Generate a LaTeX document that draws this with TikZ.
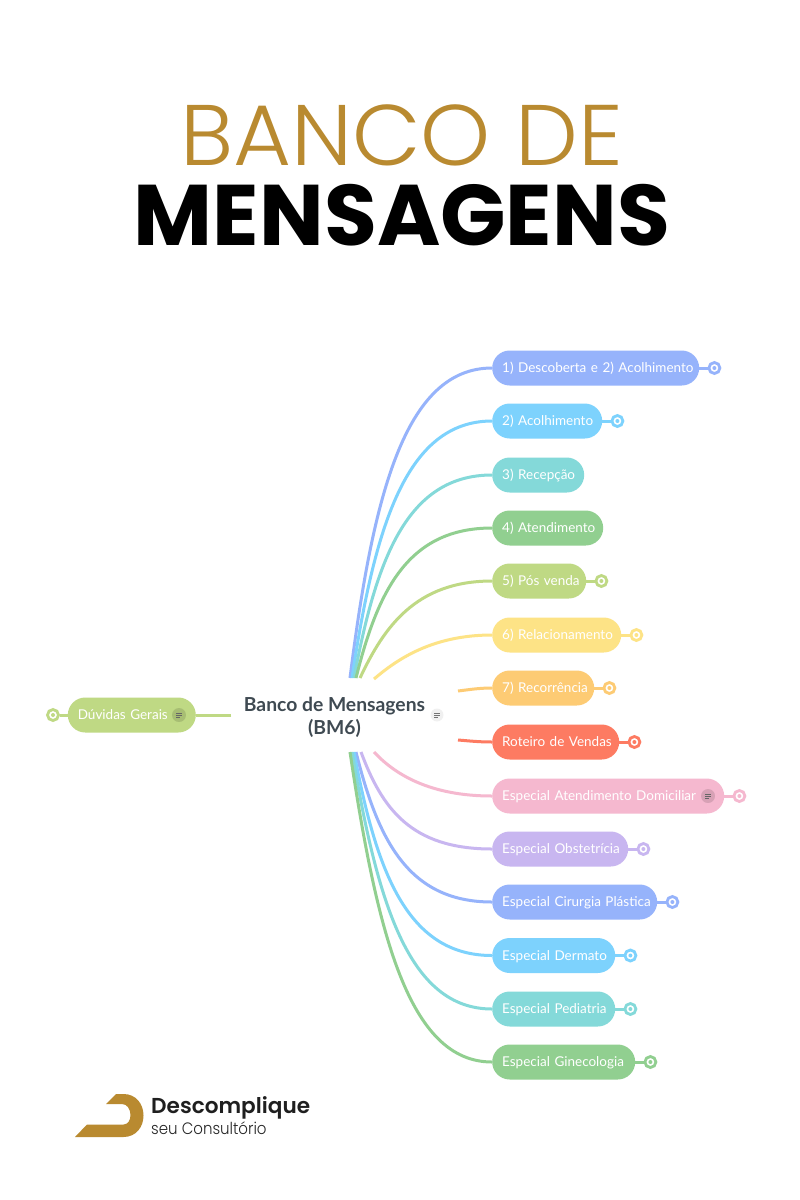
\documentclass[tikz,border=0pt]{standalone}
\usepackage{fontspec}
\usetikzlibrary{calc}
\setmainfont{Lato}
\newfontfamily\poplight{Poppins Light}
\newfontfamily\popbold{Poppins}[UprightFont=* Bold]
\newfontfamily\popsemi{Poppins}[UprightFont=* SemiBold]
\definecolor{cblue}{HTML}{96B3FB}
\definecolor{csky}{HTML}{7DD2FD}
\definecolor{cteal}{HTML}{84D9D9}
\definecolor{cgreen}{HTML}{91CF90}
\definecolor{clime}{HTML}{BFD984}
\definecolor{cyel}{HTML}{FDE386}
\definecolor{corange}{HTML}{FDCB74}
\definecolor{cred}{HTML}{FD7B62}
\definecolor{cpink}{HTML}{F5B8CF}
\definecolor{cpurp}{HTML}{C8B6F0}
\definecolor{cgold}{HTML}{B98A30}
\definecolor{cdark}{HTML}{3F4A52}
\tikzset{
  topicbox/.style={rounded corners=17.5pt,minimum height=35pt,inner xsep=10pt,inner ysep=0pt,
    align=left,text=white,anchor=west,font=\fontsize{13.5}{15}\selectfont},
  ringmark/.style={circle,draw=#1,line width=2.8pt,fill=white,minimum size=11pt,inner sep=0pt,
    path picture={\fill[#1] (path picture bounding box.center) circle (2pt);}},
  stem/.style={line width=3pt},
  branch/.style={line width=3pt},
  noteicon/.style={circle,fill=black,fill opacity=#1,minimum size=14pt,inner sep=0pt},
}
% id, y, width, colour, text
\newcommand{\topicnode}[5]{%
  \node[topicbox,fill=#4,text width={#3pt-20pt}] (n#1) at (492,#2) {\strut\raisebox{-1.5pt}{\makebox[\linewidth][l]{#5}}};}
\newcommand{\topicring}[2]{%
  \node[ringmark=#2] (r#1) at ([xshift=15pt]n#1.east) {};
  \draw[stem,#2] (n#1.east) -- (r#1.west);}
% id, colour, start x, start y, fx1, fy1, fx2
\newcommand{\topiclink}[7]{%
  \coordinate (s#1) at (#3,#4);
  \draw[branch,#2] let \p1=(s#1),\p2=(n#1.west),\n1={\x2-\x1},\n2={\y2-\y1} in
    (s#1) .. controls (\x1+#5*\n1,\y1+#6*\n2) and (\x1+#7*\n1,\y2) .. (n#1.west);}
\newcommand{\noteglyph}[1]{%
  \fill[#1] ([xshift=-3pt,yshift=2.5pt]nt.center) rectangle ([xshift=3pt,yshift=0.8pt]nt.center);
  \fill[#1] ([xshift=-3pt,yshift=0.2pt]nt.center) rectangle ([xshift=3pt,yshift=-1pt]nt.center);
  \fill[#1] ([xshift=-3pt,yshift=-1.6pt]nt.center) rectangle ([xshift=1pt,yshift=-2.8pt]nt.center);}
\begin{document}
\begin{tikzpicture}[x=1pt,y=-1pt]
\useasboundingbox[fill=white] (0,0) rectangle (800,1200);
% title
\node[text=cgold,font=\poplight\fontsize{86}{86}\selectfont,inner sep=0pt] (title1) at (401.5,135) {\scalebox{1.035}[1]{BANCO DE}};
\node[text=black,font=\popbold\fontsize{86}{86}\selectfont,inner sep=0pt] (title2) at (402,215) {MENSAGENS};
% root
\node[text=cdark,align=center,font=\bfseries\fontsize{19.3}{23}\selectfont,inner sep=0pt] (root) at (334.5,717) {Banco de Mensagens\\(BM6)};
\node[noteicon=0.06,minimum size=13pt] (nt) at (437,715) {};
\noteglyph{black!55}
% topics
\topicnode{1}{368}{207}{cblue}{1) Descoberta e 2) Acolhimento}
\topicnode{2}{421}{110}{csky}{2) Acolhimento}
\topicnode{3}{475}{92}{cteal}{3) Recepção}
\topicnode{4}{528}{111}{cgreen}{4) Atendimento}
\topicnode{5}{581}{94}{clime}{5) Pós venda}
\topicnode{6}{635}{129}{cyel}{6) Relacionamento}
\topicnode{7}{688}{102}{corange}{7) Recorrência}
\topicnode{8}{742}{127}{cred}{Roteiro de Vendas}
\topicnode{9}{796}{232}{cpink}{Especial Atendimento Domiciliar}
\topicnode{10}{849}{136}{cpurp}{Especial Obstetrícia}
\topicnode{11}{902}{165}{cblue}{Especial Cirurgia Plástica}
\topicnode{12}{955.5}{123}{csky}{Especial Dermato}
\topicnode{13}{1009}{123}{cteal}{Especial Pediatria}
\topicnode{14}{1062}{143}{cgreen}{Especial Ginecologia}
\topicring{1}{cblue}
\topicring{2}{csky}
\topicring{5}{clime}
\topicring{6}{cyel}
\topicring{7}{corange}
\topicring{8}{cred}
\topicring{9}{cpink}
\topicring{10}{cpurp}
\topicring{11}{cblue}
\topicring{12}{csky}
\topicring{13}{cteal}
\topicring{14}{cgreen}
\topiclink{1}{cblue}{350}{678}{.16}{.58}{.38}
\topiclink{2}{csky}{352}{678}{.16}{.58}{.38}
\topiclink{3}{cteal}{354}{678}{.16}{.58}{.38}
\topiclink{4}{cgreen}{356}{678}{.16}{.58}{.38}
\topiclink{5}{clime}{360}{678}{.18}{.52}{.42}
\topiclink{6}{cyel}{374}{679}{.18}{.41}{.48}
\topiclink{7}{corange}{458}{691}{.3}{.4}{.6}
\topiclink{8}{cred}{458}{740}{.3}{.4}{.6}
\topiclink{9}{cpink}{374}{752}{.18}{.52}{.48}
\topiclink{10}{cpurp}{361}{752}{.16}{.58}{.38}
\topiclink{11}{cblue}{356}{752}{.16}{.58}{.38}
\topiclink{12}{csky}{354}{752}{.16}{.58}{.38}
\topiclink{13}{cteal}{352}{752}{.18}{.58}{.4}
\topiclink{14}{cgreen}{350}{752}{.19}{.58}{.41}
% note icon in the pink topic
\node[noteicon=0.12] (nt) at (708,796) {};
\noteglyph{black!60}
% left topic
\node[topicbox,anchor=east,fill=clime,text width=108pt] (left) at (196,715) {\strut\raisebox{-1.5pt}{Dúvidas Gerais}};
\node[ringmark=clime] (rleft) at (53,715) {};
\draw[stem,clime] (left.west) -- (rleft.east);
\coordinate (sleft) at (231,715);
\draw[branch,clime] (sleft) -- (left.east);
\node[noteicon=0.12] (nt) at (179,715) {};
\noteglyph{black!60}
% logo
\fill[cgold] (106,1104) -- (116,1094) -- (123.5,1094) .. controls (136,1094) and (143.5,1104) .. (143.5,1115.5)
  .. controls (143.5,1127) and (136,1137) .. (123.5,1137) -- (75,1137) -- (87,1124.5) -- (123.5,1124.5)
  .. controls (128,1124.5) and (130.5,1120) .. (130.5,1115) .. controls (130.5,1109) and (127,1104) .. (122,1104) -- cycle;
\node[anchor=west,inner sep=0pt,text=black!88,font=\popsemi\fontsize{21.6}{22}\selectfont] (brand1) at (151,1108) {Descomplique};
\node[anchor=west,inner sep=0pt,text=black!85,font=\poplight\fontsize{16.5}{16.5}\selectfont] (brand2) at (151,1128) {\scalebox{0.91}[1]{seu Consultório}};
\end{tikzpicture}
\end{document}
